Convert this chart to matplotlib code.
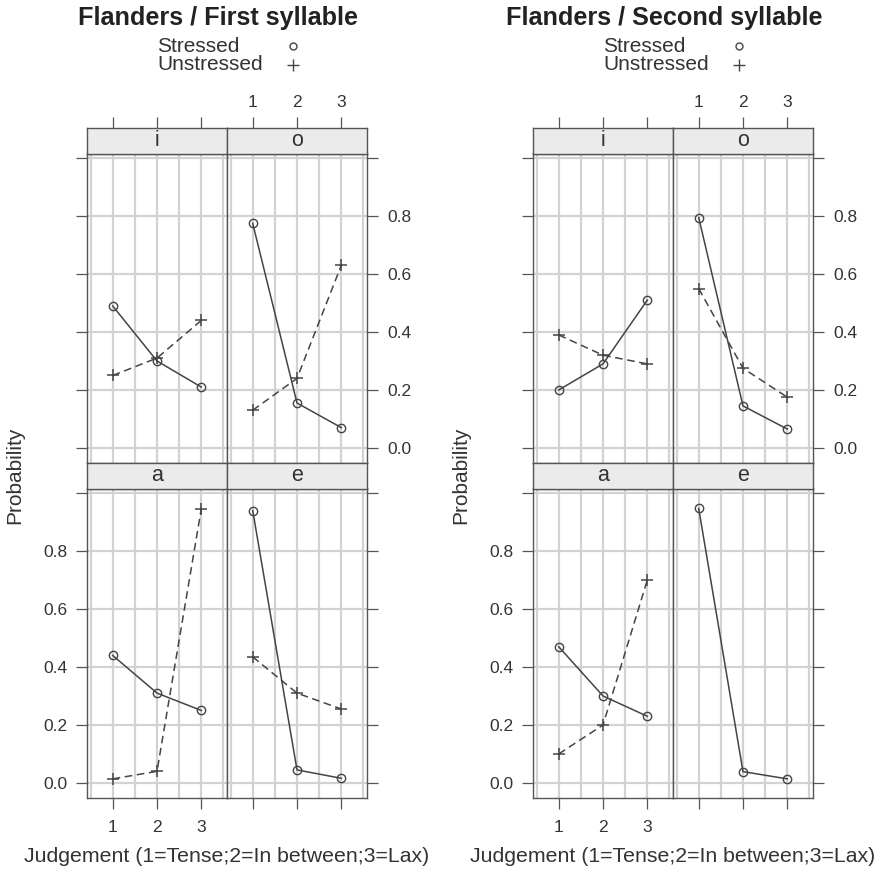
import matplotlib.pyplot as plt
from matplotlib.lines import Line2D

plt.rcParams['font.family'] = ['Liberation Sans', 'DejaVu Sans']

# data
judgement = [1, 2, 3]
vowels = ['i', 'o', 'a', 'e']
titles = ['Flanders / First syllable', 'Flanders / Second syllable']
series_names = ['Stressed', 'Unstressed']
y_ticks = [0.0, 0.2, 0.4, 0.6, 0.8, 1.0]
y_ticklabels = ['0.0', '0.2', '0.4', '0.6', '0.8', '']
x_label = 'Judgement (1=Tense;2=In between;3=Lax)'
y_label = 'Probability'

first_i_stressed = [0.49, 0.30, 0.21]
first_i_unstressed = [0.25, 0.31, 0.44]
first_o_stressed = [0.775, 0.155, 0.07]
first_o_unstressed = [0.13, 0.24, 0.63]
first_a_stressed = [0.44, 0.31, 0.25]
first_a_unstressed = [0.014, 0.04, 0.946]
first_e_stressed = [0.94, 0.045, 0.016]
first_e_unstressed = [0.435, 0.31, 0.255]

second_i_stressed = [0.20, 0.29, 0.51]
second_i_unstressed = [0.39, 0.32, 0.29]
second_o_stressed = [0.795, 0.145, 0.065]
second_o_unstressed = [0.55, 0.275, 0.175]
second_a_stressed = [0.47, 0.30, 0.23]
second_a_unstressed = [0.10, 0.20, 0.70]
second_e_stressed = [0.947, 0.039, 0.014]
second_e_unstressed = []

first_stressed = [first_i_stressed, first_o_stressed, first_a_stressed, first_e_stressed]
first_unstressed = [first_i_unstressed, first_o_unstressed, first_a_unstressed, first_e_unstressed]
second_stressed = [second_i_stressed, second_o_stressed, second_a_stressed, second_e_stressed]
second_unstressed = [second_i_unstressed, second_o_unstressed, second_a_unstressed, second_e_unstressed]

W, H = 881, 874
fig = plt.figure(figsize=(W / 100, H / 100), dpi=100)

line_col = '#444444'
axis_col = '#555555'
text_col = '#333333'
XLIM = (0.42, 3.58)
YLIM = (-0.052, 1.016)


def px_axes(x0, y0, w, h):
    return fig.add_axes([x0 / W, 1 - (y0 + h) / H, w / W, h / H])


def draw_plot(off, title, stressed, unstressed):
    strip_h, panel_h, top = 25.5, 309.5, 128
    for k, v in enumerate(vowels):
        row, col = divmod(k, 2)
        x0 = 87 + off + col * 140
        ys = top + row * (strip_h + panel_h)

        ax = px_axes(x0, ys + strip_h, 140, panel_h)
        ax.set_xlim(*XLIM)
        ax.set_ylim(*YLIM)
        ax.set_xticks(judgement)
        ax.set_xticks([0.5, 1.5, 2.5, 3.5], minor=True)
        ax.set_yticks(y_ticks)
        ax.set_yticklabels(y_ticklabels)
        ax.grid(True, axis='x', which='both', color='#d2d2d2', lw=1.6)
        ax.grid(True, axis='y', which='major', color='#d2d2d2', lw=1.6)
        ax.set_axisbelow(True)
        ax.tick_params(which='minor', length=0)
        ax.tick_params(which='major', direction='out', length=8, width=0.9,
                       color=axis_col, labelsize=12.5, labelcolor=text_col)
        for sp in ax.spines.values():
            sp.set_color(axis_col)
            sp.set_linewidth(1.0)

        # y axis: ticks on the outer side, labels alternate
        if col == 0:
            ax.tick_params(axis='y', left=True, right=False, labelleft=(row == 1),
                           labelright=False, pad=6)
        else:
            ax.tick_params(axis='y', left=False, right=True, labelleft=False,
                           labelright=(row == 0), pad=7)
        # x axis at the bottom only for the lower row
        ax.tick_params(axis='x', top=False, labeltop=False,
                       bottom=(row == 1), labelbottom=(row == 1 and col == 0), pad=8)

        s = stressed[k]
        u = unstressed[k]
        if len(u):
            ax.plot(judgement, u, color=line_col, lw=1.1, ls=(0, (5, 3)),
                    marker='+', ms=9, mew=1.1)
        if len(s):
            ax.plot(judgement, s, color=line_col, lw=1.1, ls='-',
                    marker='o', ms=6, mfc='none', mew=1.0)

        # strip
        sx = px_axes(x0, ys, 140, strip_h)
        sx.set_facecolor('#ebebeb')
        sx.set_xlim(*XLIM)
        sx.set_ylim(0, 1)
        sx.set_yticks([])
        sx.set_xticks(judgement)
        for sp in sx.spines.values():
            sp.set_color(axis_col)
            sp.set_linewidth(1.0)
        sx.tick_params(axis='x', direction='out', length=8, width=0.9, color=axis_col,
                       bottom=False, labelbottom=False, top=(row == 0),
                       labeltop=(row == 0 and col == 1), labelsize=12.5,
                       labelcolor=text_col, pad=5)
        sx.text(0.5, 0.5, v, transform=sx.transAxes, ha='center', va='center',
                fontsize=15.5, color=text_col)

    fig.text((218 + off) / W, 1 - 18 / H, title, ha='center', va='center', fontsize=18.2,
             fontweight='bold', color='#222222')
    # key
    for j, (name, mk, ms) in enumerate(zip(series_names, ['o', '+'], [5, 9])):
        yk = 46 + j * 19
        fig.text((157 + off) / W, 1 - yk / H, name, ha='left', va='center',
                 fontsize=15, color=text_col)
        fig.add_artist(Line2D([(293 + off) / W], [1 - yk / H], marker=mk, ms=ms,
                              mfc='none', mew=1.0, color=line_col, ls='none',
                              transform=fig.transFigure))
    fig.text((15 + off) / W, 1 - 475 / H, y_label, rotation=90, ha='center',
             va='center', fontsize=15, color=text_col)
    fig.text((227 + off) / W, 1 - 856 / H, x_label, ha='center', va='center',
             fontsize=15.3, color=text_col)


draw_plot(0, titles[0], first_stressed, first_unstressed)
draw_plot(446, titles[1], second_stressed, second_unstressed)

fig.savefig('out.png', dpi=100, facecolor='white')
